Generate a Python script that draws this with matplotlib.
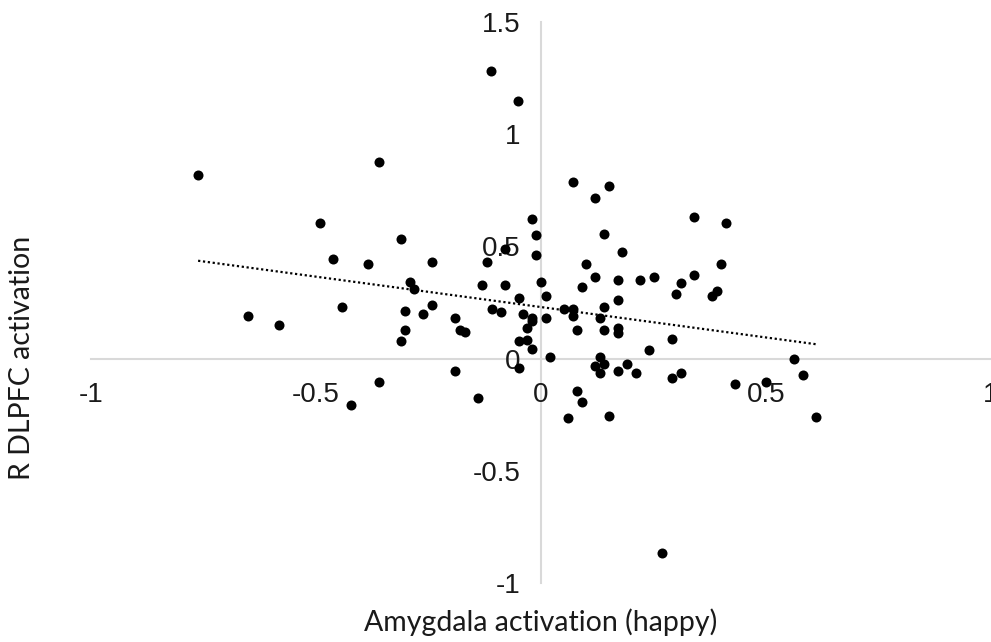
import numpy as np
import matplotlib
matplotlib.use('Agg')
import matplotlib.pyplot as plt

# Amygdala (happy) vs R DLPFC activation
amygdala = [-0.762, -0.492, -0.462, -0.384, -0.652, -0.583, -0.442, -0.422, -0.361, -0.311,
            -0.242, -0.291, -0.282, -0.242, -0.302, -0.262, -0.302, -0.311, -0.191, -0.181,
            -0.170, -0.191, -0.361, -0.141, -0.121, -0.131, -0.081, -0.081, -0.110, -0.090,
            -0.050, -0.041, -0.021, -0.011, -0.011, -0.021, -0.021, -0.031, -0.050, -0.031,
            -0.021, -0.050, -0.111, -0.051, 0.070, 0.119, 0.150, 0.140, 0.181, 0.099,
            0.000, 0.120, 0.090, 0.170, 0.221, 0.250, 0.010, 0.010, 0.050, 0.070,
            0.070, 0.079, 0.141, 0.170, 0.130, 0.141, 0.170, 0.170, 0.019, 0.241,
            0.130, 0.120, 0.141, 0.130, 0.170, 0.190, 0.210, 0.079, 0.090, 0.059,
            0.150, 0.341, 0.410, 0.400, 0.341, 0.311, 0.301, 0.381, 0.390, 0.290,
            0.290, 0.311, 0.430, 0.563, 0.582, 0.501, 0.611, 0.269]
dlpfc = [0.816, 0.604, 0.442, 0.423, 0.189, 0.149, 0.229, -0.205, 0.876, 0.534,
         0.432, 0.341, 0.308, 0.238, 0.210, 0.198, 0.126, 0.077, 0.179, 0.129,
         0.117, -0.054, -0.106, -0.176, 0.432, 0.330, 0.490, 0.330, 0.219, 0.208,
         0.271, 0.198, 0.624, 0.552, 0.463, 0.179, 0.167, 0.137, 0.077, 0.085,
         0.045, -0.043, 1.280, 1.150, 0.787, 0.714, 0.767, 0.554, 0.473, 0.423,
         0.343, 0.362, 0.321, 0.351, 0.351, 0.362, 0.280, 0.179, 0.220, 0.220,
         0.189, 0.126, 0.229, 0.259, 0.179, 0.126, 0.138, 0.116, 0.006, 0.037,
         0.006, -0.034, -0.024, -0.064, -0.055, -0.024, -0.064, -0.144, -0.195, -0.265,
         -0.258, 0.633, 0.604, 0.423, 0.371, 0.339, 0.290, 0.280, 0.301, 0.088,
         -0.085, -0.064, -0.114, -0.004, -0.075, -0.104, -0.259, -0.865]

xticks = [-1, -0.5, 0, 0.5, 1]
xtick_labels = ['-1', '-0.5', '0', '0.5', '1']
yticks = [-1, -0.5, 0, 0.5, 1, 1.5]
ytick_labels = ['-1', '-0.5', '0', '0.5', '1', '1.5']

x = np.array(amygdala)
y = np.array(dlpfc)

fig = plt.figure(figsize=(9.91, 6.42), dpi=100)
ax = fig.add_axes([91 / 991, 59 / 642, 900 / 991, 561 / 642])

ax.scatter(x, y, s=52, color='black', zorder=3, linewidths=0)

# linear trendline
slope, intercept = np.polyfit(x, y, 1)
xs = np.array([x.min(), x.max()])
ax.plot(xs, slope * xs + intercept, color='black', linewidth=1.6,
        linestyle=(0, (1, 1.2)), zorder=2)

ax.set_xlim(-1, 1)
ax.set_ylim(-1, 1.5)

# Excel-style axes crossing at the origin
for side in ['top', 'right']:
    ax.spines[side].set_visible(False)
for side in ['left', 'bottom']:
    ax.spines[side].set_position(('data', 0))
    ax.spines[side].set_color('#d9d9d9')
    ax.spines[side].set_linewidth(1.5)
    ax.spines[side].set_zorder(1)

ax.set_xticks(xticks)
ax.set_xticklabels(xtick_labels)
ax.set_yticks(yticks)
ax.set_yticklabels(ytick_labels)
ax.tick_params(axis='x', length=0, pad=17, labelsize=20, labelcolor='#1a1a1a')
ax.tick_params(axis='y', length=0, pad=15, labelsize=20, labelcolor='#1a1a1a')
for lab in ax.get_xticklabels() + ax.get_yticklabels():
    lab.set_fontfamily('Liberation Sans')
    lab.set_clip_on(False)

fig.text(541 / 991, 1 - 622 / 642, 'Amygdala activation (happy)', ha='center', va='center',
         fontsize=20.5, family='Lato', color='#1a1a1a')
fig.text(22 / 991, 1 - 358 / 642, 'R DLPFC activation', ha='center', va='center',
         rotation=90, fontsize=20.5, family='Lato', color='#1a1a1a')

fig.savefig('out.png', dpi=100)
